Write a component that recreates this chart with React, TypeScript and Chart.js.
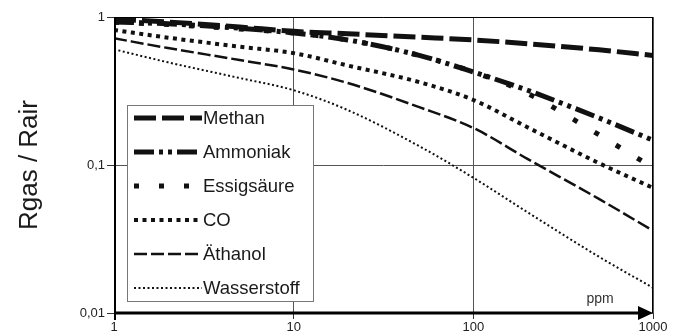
import React, { useEffect, useRef } from "react";
import { Chart, registerables } from "chart.js";

Chart.register(...registerables);

const xs = [1, 2, 5, 10, 20, 50, 100, 200, 500, 1000];
const methan = [0.97, 0.925, 0.856, 0.8, 0.77, 0.73, 0.7, 0.66, 0.6, 0.55];
const ammoniak = [0.925, 0.9, 0.84, 0.78, 0.7, 0.55, 0.425, 0.32, 0.208, 0.147];
const essigsaeure = [0.92, 0.89, 0.83, 0.78, 0.7, 0.55, 0.425, 0.305, 0.16, 0.096];
const co = [0.817, 0.725, 0.63, 0.57, 0.47, 0.363, 0.275, 0.18, 0.103, 0.07];
const aethanol = [0.718, 0.617, 0.512, 0.442, 0.358, 0.246, 0.178, 0.11, 0.059, 0.036];
const wasserstoff = [0.605, 0.494, 0.387, 0.32, 0.235, 0.134, 0.082, 0.048, 0.024, 0.0148];

const seriesLabels = ["Methan", "Ammoniak", "Essigsäure", "CO", "Äthanol", "Wasserstoff"];
const seriesValues = [methan, ammoniak, essigsaeure, co, aethanol, wasserstoff];
const seriesWidths = [5, 5, 5, 4, 2.5, 2];
const seriesDashes = [
  [22, 6],
  [20, 5, 4, 5, 4, 5],
  [5, 20],
  [4, 4.5],
  [13, 4],
  [2, 2.5],
];

const xTicks = [1, 10, 100, 1000];
const yTicks = [0.01, 0.1, 1];
const yTickLabels: Record<string, string> = { "0.01": "0,01", "0.1": "0,1", "1": "1" };
const yTitle = "Rgas / Rair";
const xUnit = "ppm";

const FONT = "'Liberation Sans', Arial, sans-serif";

const decorPlugin = {
  id: "decor",
  afterDatasetsDraw(chart: any) {
    const ctx = chart.ctx;
    const bx = 127, by = 105, bw = 186, bh = 196;
    ctx.save();
    ctx.fillStyle = "#fff";
    ctx.fillRect(bx, by, bw, bh);
    ctx.strokeStyle = "#777";
    ctx.lineWidth = 1;
    ctx.strokeRect(bx + 0.5, by + 0.5, bw, bh);
    chart.data.datasets.forEach((ds: any, i: number) => {
      const y = 118 + i * 34;
      ctx.beginPath();
      ctx.setLineDash(ds.borderDash || []);
      ctx.lineWidth = ds.borderWidth;
      ctx.strokeStyle = ds.borderColor;
      ctx.lineCap = "butt";
      ctx.moveTo(134, y);
      ctx.lineTo(202, y);
      ctx.stroke();
      ctx.setLineDash([]);
      ctx.fillStyle = "#1a1a1a";
      ctx.font = `18.5px ${FONT}`;
      ctx.textAlign = "left";
      ctx.textBaseline = "middle";
      ctx.fillText(ds.label, 203, y + 1);
    });
    ctx.restore();
  },
  afterDraw(chart: any) {
    const ctx = chart.ctx;
    const { left, right, top, bottom } = chart.chartArea;
    ctx.save();
    ctx.strokeStyle = "#000";
    ctx.fillStyle = "#000";
    ctx.lineWidth = 1;
    ctx.beginPath();
    ctx.moveTo(left, top + 0.5);
    ctx.lineTo(right, top + 0.5);
    ctx.moveTo(right - 0.5, top);
    ctx.lineTo(right - 0.5, bottom);
    ctx.stroke();
    ctx.lineWidth = 2;
    ctx.beginPath();
    ctx.moveTo(left + 1, top);
    ctx.lineTo(left + 1, bottom + 7);
    ctx.stroke();
    ctx.lineWidth = 3;
    ctx.beginPath();
    ctx.moveTo(left, bottom);
    ctx.lineTo(right - 14, bottom);
    ctx.stroke();
    ctx.beginPath();
    ctx.moveTo(right, bottom);
    ctx.lineTo(right - 15, bottom - 7);
    ctx.lineTo(right - 15, bottom + 7);
    ctx.closePath();
    ctx.fill();
    ctx.fillStyle = "#333";
    ctx.font = `14px ${FONT}`;
    ctx.textAlign = "center";
    ctx.textBaseline = "alphabetic";
    ctx.fillText(xUnit, right - 53, bottom - 10);
    ctx.fillStyle = "#1a1a1a";
    ctx.font = `26px ${FONT}`;
    ctx.translate(37, (top + bottom) / 2);
    ctx.rotate(-Math.PI / 2);
    ctx.textAlign = "center";
    ctx.textBaseline = "alphabetic";
    ctx.fillText(yTitle, 0, 0);
    ctx.restore();
  },
};

export default function App() {
  const ref = useRef<HTMLCanvasElement>(null);
  useEffect(() => {
    document.body.style.margin = "0";
    const datasets = seriesLabels.map((label, i) => ({
      label,
      data: xs.map((x, j) => ({ x, y: seriesValues[i][j] })),
      borderColor: "#111",
      backgroundColor: "#111",
      borderWidth: seriesWidths[i],
      borderDash: seriesDashes[i],
      pointRadius: 0,
      cubicInterpolationMode: "monotone" as const,
      fill: false,
    }));
    const chart = new Chart(ref.current!, {
      type: "line",
      data: { datasets },
      plugins: [decorPlugin],
      options: {
        animation: false,
        responsive: false,
        layout: { padding: { top: 17, right: 29, left: 0, bottom: 0 } },
        plugins: { legend: { display: false }, tooltip: { enabled: false } },
        scales: {
          x: {
            type: "logarithmic",
            min: 1,
            max: 1000,
            afterBuildTicks: (s: any) => {
              s.ticks = xTicks.map((v) => ({ value: v }));
            },
            afterFit: (s: any) => {
              s.height = 23;
            },
            ticks: {
              autoSkip: false,
              maxRotation: 0,
              padding: 1,
              color: "#222",
              font: { family: FONT, size: 13 },
              callback: (v: any) => String(v),
            },
            grid: { color: "#555", tickColor: "#333", tickLength: 6, lineWidth: 1 },
            border: { display: false },
          },
          y: {
            type: "logarithmic",
            min: 0.01,
            max: 1,
            afterBuildTicks: (s: any) => {
              s.ticks = yTicks.map((v) => ({ value: v }));
            },
            afterFit: (s: any) => {
              s.width = 114;
            },
            ticks: {
              autoSkip: false,
              padding: 2,
              color: "#222",
              font: { family: FONT, size: 13 },
              callback: (v: any) => yTickLabels[String(v)] ?? String(v),
            },
            grid: { color: "#555", tickColor: "#333", tickLength: 7, lineWidth: 1 },
            border: { display: false },
          },
        },
      },
    });
    return () => chart.destroy();
  }, []);
  return <canvas ref={ref} width={682} height={336} style={{ display: "block" }} />;
}
